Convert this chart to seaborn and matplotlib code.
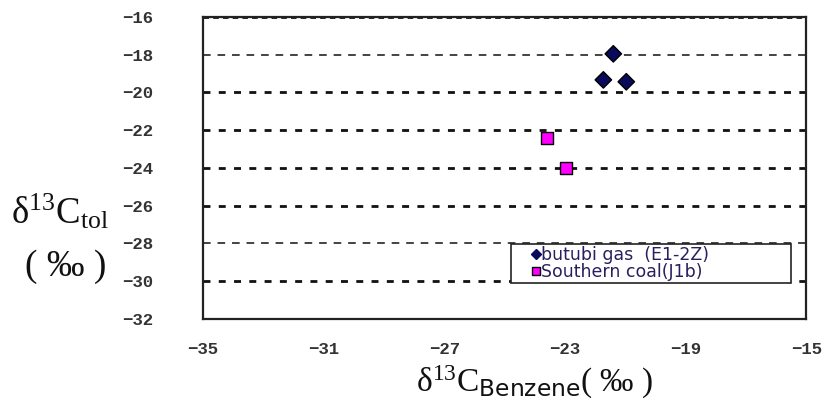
import matplotlib
matplotlib.use("Agg")
import matplotlib.pyplot as plt
from matplotlib.lines import Line2D
from matplotlib.patches import Rectangle
import seaborn as sns
import pandas as pd

# ---- data ----
gas_x = [-21.40, -21.73, -20.97]
gas_y = [-17.96, -19.34, -19.44]
coal_x = [-23.59, -22.96]
coal_y = [-22.41, -24.00]
series_names = ["butubi gas  (E1-2Z)", "Southern coal(J1b)"]
x_ticks = [-35, -31, -27, -23, -19, -15]
y_ticks = [-32, -30, -28, -26, -24, -22, -20, -18, -16]

df = pd.DataFrame({
    "x": gas_x + coal_x,
    "y": gas_y + coal_y,
    "series": [series_names[0]] * len(gas_x) + [series_names[1]] * len(coal_x),
})

sns.set_theme(style="white")
plt.rcParams["mathtext.fontset"] = "custom"
plt.rcParams["mathtext.rm"] = "Liberation Serif"
plt.rcParams["mathtext.it"] = "Liberation Serif"
plt.rcParams["mathtext.sf"] = "DejaVu Sans"

fig = plt.figure(figsize=(8.22, 4.01), dpi=100)
ax = fig.add_axes([0.247, 0.205, 0.734, 0.753])

sns.scatterplot(data=df, x="x", y="y", hue="series", style="series",
                markers={series_names[0]: "D", series_names[1]: "s"},
                palette={series_names[0]: "#0a0a5a", series_names[1]: "#ff00ff"},
                s=70, edgecolor="black", linewidth=1.0,
                ax=ax, zorder=5, legend=False)

ax.set_xlim(x_ticks[0], x_ticks[-1])
ax.set_ylim(y_ticks[0], y_ticks[-1])
ax.set_xticks(x_ticks)
ax.set_yticks(y_ticks)
ax.set_xticklabels([f"\u2212{abs(v)}" for v in x_ticks])
ax.set_yticklabels([f"\u2212{abs(v)}" for v in y_ticks])
for lab in ax.get_xticklabels() + ax.get_yticklabels():
    lab.set_fontfamily("Liberation Mono")
    lab.set_fontweight("bold")
    lab.set_fontsize(12.5)
    lab.set_color("#333333")
ax.tick_params(axis="x", length=3, width=1, color="black", pad=17, direction="in")
ax.tick_params(axis="y", length=0, pad=36)
ax.set_xlabel("")
ax.set_ylabel("")

for sp in ax.spines.values():
    sp.set_color("#222222")
    sp.set_linewidth(1.6)

# horizontal gridlines with varied dash patterns (ascending tick order)
dot = (0, (2.5, 3))
thin = (0, (5, 4.5))
styles = [dot, dot, thin, dot, dot, dot, dot, thin, (0, (2, 1.5))]
widths = [2, 2, 1.1, 2, 2, 2, 2, 1.1, 2]
ax.yaxis.grid(True)
for gl, ls, lw in zip(ax.get_ygridlines(), styles, widths):
    gl.set_linestyle(ls)
    gl.set_linewidth(lw)
    gl.set_color("#111111")
ax.set_axisbelow(True)

# legend box
ax.add_patch(Rectangle((0.511, 0.119), 0.464, 0.129, transform=ax.transAxes,
                       facecolor="white", edgecolor="#222222", linewidth=1.2,
                       zorder=6))
handles = [
    Line2D([], [], marker="D", linestyle="none", markersize=5,
           markerfacecolor="#0a0a5a", markeredgecolor="#0a0a5a"),
    Line2D([], [], marker="s", linestyle="none", markersize=6,
           markerfacecolor="#ff00ff", markeredgecolor="black"),
]
leg = ax.legend(handles, series_names, loc="upper left",
                bbox_to_anchor=(0.545, 0.240), frameon=False,
                borderpad=0.0, labelspacing=-0.08,
                handlelength=0.5, handletextpad=0.05, borderaxespad=0,
                prop={"family": "DejaVu Sans", "size": 12.5})
leg.set_zorder(7)
for t in leg.get_texts():
    t.set_color("#2a1f5e")

# axis labels
fig.text(0.073, 0.471, r"$\mathrm{\delta^{13}C_{tol}}$", fontsize=26.5,
         ha="center", va="center", color="#111111")
fig.text(0.080, 0.334, "( \u2030 )", fontsize=27, family="Liberation Serif",
         ha="center", va="center", color="#111111")
fig.text(0.650, 0.047, r"$\mathrm{\delta^{13}C}_{\mathsf{Benzene}}$" + "( \u2030 )",
         fontsize=24, family="Liberation Serif", ha="center", va="center",
         color="#111111")

fig.savefig("out.png", dpi=100)
